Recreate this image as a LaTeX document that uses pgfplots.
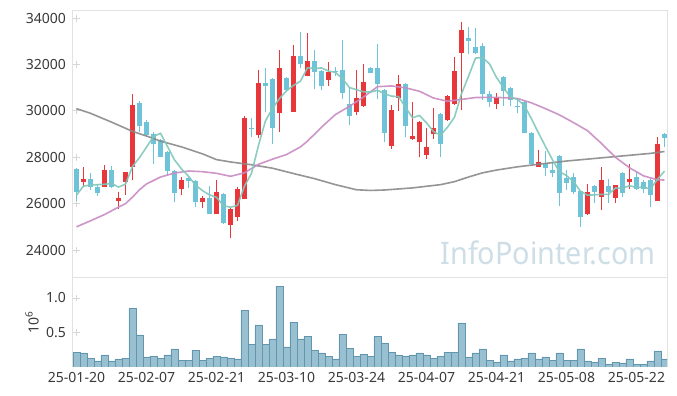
\documentclass[border=0pt]{standalone}
\usepackage{fontspec}
\setmainfont{Noto Sans}
\usepackage{graphicx}
\usepackage{pgfplots}
\pgfplotsset{compat=1.18}
\usepackage{pgfplotstable}

\definecolor{upc}{RGB}{232,55,59}
\definecolor{dnc}{RGB}{110,195,217}
\definecolor{ma5c}{RGB}{128,200,186}
\definecolor{ma20c}{RGB}{201,139,195}
\definecolor{malc}{RGB}{138,138,138}
\definecolor{volf}{RGB}{152,192,208}
\definecolor{vold}{RGB}{98,150,174}
\definecolor{framec}{RGB}{226,226,226}
\definecolor{crossc}{RGB}{214,214,214}
\definecolor{labc}{RGB}{58,58,58}
\definecolor{wmc}{RGB}{205,222,231}

% rising candles (close > open)
\pgfplotstableread{
i o h l c
1 26950 27570 26710 27060
4 26730 27670 26720 27450
6 26130 26520 25760 26260
7 26950 27370 26370 27350
8 27570 30730 27020 30260
15 26620 27160 26370 27020
18 26090 26340 25800 26240
20 25550 27020 25540 26490
22 25080 25800 24500 25770
23 25440 26710 25250 26630
24 26200 29780 26180 29710
26 28960 31770 28820 31200
29 29900 32630 29080 31870
31 29970 32850 29940 32370
33 31520 33350 31490 32160
36 31340 32130 31080 31700
40 29970 31770 29830 30570
41 30220 32020 30190 31260
45 28500 30260 28360 30040
46 30550 31550 30010 31170
48 28790 30400 28750 28920
49 28650 29570 28000 29540
50 28100 29280 27930 28460
51 28990 30120 28790 29280
53 29610 30690 29570 30650
54 30290 32340 30270 31730
55 32520 33850 30040 33500
60 30290 30760 30090 30550
66 27600 28320 27580 27810
73 25540 26840 25520 26520
75 26300 27570 25730 27020
77 26230 26820 26040 26810
79 26950 27710 26620 27060
83 26130 28860 26110 28580
}\upT

% falling candles (close < open)
\pgfplotstableread{
i o h l c
0 27500 27540 26130 26520
2 27060 27310 26590 26710
3 26730 26840 26340 26450
5 27450 27630 26660 26710
9 30330 30430 29110 29370
10 29510 29610 28890 28960
11 29010 29110 27710 28560
12 28740 28790 28000 28030
13 28230 28290 27240 27420
14 27410 27450 26090 26470
16 27100 27160 26660 26990
17 26980 27000 25840 26090
19 26240 26780 25540 25550
21 26420 26450 25120 25180
25 29270 29680 28890 29230
27 31200 31840 29970 31090
28 31380 31410 28560 29280
30 31440 31480 30830 30910
32 32370 33420 31840 32010
34 32160 32630 30940 31700
35 31730 31770 30910 31060
37 31740 31910 31490 31700
38 31770 33060 30500 30790
39 30300 31000 29380 29800
42 31860 31910 31630 31650
43 31860 32890 30500 31180
44 30910 30940 28650 29060
47 31170 31200 28890 29370
52 29870 29900 28030 28560
56 33160 33640 32450 33030
57 32750 33570 32480 32520
58 32810 32950 30470 30730
59 30720 30860 30190 30400
61 31450 31490 30230 30860
62 30980 31050 30230 30470
63 30230 30550 29900 30190
64 30380 30430 29040 29060
65 29040 29110 27670 27700
67 27740 28290 27190 27550
68 27450 27800 27160 27340
69 28060 28080 25900 26470
70 27100 27450 26600 26910
71 27150 27340 26420 26520
72 26550 26560 25010 25440
74 26760 26810 26020 26520
76 26760 27050 26040 26520
78 27340 27350 26280 26470
80 27150 27380 26600 26620
81 26920 27020 26450 26620
82 27020 27100 25840 26370
84 29010 29040 28460 28820
}\dnT

% short moving average
\pgfplotstableread{
i v
0 26370
1 26760
2 26800
3 26820
4 26837
5 26875
6 26714
7 26843
8 27606
9 27988
10 28439
11 28900
12 29035
13 28468
14 27890
15 27501
16 27187
17 26799
18 26563
19 26379
20 26273
21 25910
22 25847
23 25925
24 26756
25 27308
26 28512
27 29576
28 30105
29 30537
30 30868
31 31103
32 31288
33 31864
34 31829
35 31859
36 31724
37 31665
38 31392
39 31012
40 30915
41 30829
42 30815
43 30893
44 30746
45 30640
46 30620
47 30163
48 29711
49 29806
50 29489
51 29112
52 28951
53 29297
54 29734
55 30742
56 31493
57 32283
58 32301
59 32036
60 31446
61 31012
62 30603
63 30497
64 30229
65 29660
66 29049
67 28465
68 27892
69 27374
70 27215
71 26956
72 26533
73 26369
74 26378
75 26401
76 26401
77 26675
78 26666
79 26776
80 26696
81 26716
82 26630
83 27051
84 27402
}\maFive

% medium moving average
\pgfplotstableread{
i v
0 25000
2 25260
4 25530
6 25850
7 26000
8 26280
9 26600
10 26850
11 27000
12 27150
14 27320
16 27410
18 27380
20 27310
22 27180
24 27330
26 27700
28 27920
30 28120
32 28450
33 28700
35 29300
37 29850
39 30200
41 30600
43 31050
45 31080
47 31000
49 30850
51 30560
53 30420
55 30500
57 30580
60 30590
63 30540
65 30350
67 30100
69 29830
71 29500
73 29150
75 28600
77 28000
79 27550
81 27200
83 27030
84 27020
}\maTwenty

% long moving average
\pgfplotstableread{
i v
0 30100
2 29900
5 29520
8 29120
10 28920
12 28700
15 28450
18 28150
20 27900
22 27800
25 27680
28 27530
31 27300
34 27080
37 26820
40 26600
42 26570
44 26590
48 26680
52 26820
54 26950
56 27150
58 27330
60 27450
63 27590
66 27700
70 27840
74 27950
78 28060
82 28170
84 28250
}\maLong

% volume (millions)
\pgfplotstableread{
i v
0 0.217
1 0.203
2 0.130
3 0.087
4 0.174
5 0.087
6 0.116
7 0.130
8 0.855
9 0.464
10 0.145
11 0.159
12 0.130
13 0.174
14 0.261
15 0.101
16 0.101
17 0.246
18 0.101
19 0.130
20 0.159
21 0.145
22 0.130
23 0.116
24 0.826
25 0.333
26 0.609
27 0.333
28 0.406
29 1.174
30 0.290
31 0.652
32 0.406
33 0.449
34 0.246
35 0.203
36 0.159
37 0.116
38 0.478
39 0.275
40 0.159
41 0.188
42 0.159
43 0.449
44 0.348
45 0.217
46 0.174
47 0.159
48 0.174
49 0.203
50 0.174
51 0.130
52 0.159
53 0.217
54 0.217
55 0.638
56 0.145
57 0.203
58 0.261
59 0.101
60 0.072
61 0.174
62 0.087
63 0.116
64 0.130
65 0.203
66 0.116
67 0.145
68 0.101
69 0.203
70 0.101
71 0.101
72 0.261
73 0.087
74 0.072
75 0.130
76 0.043
77 0.072
78 0.058
79 0.116
80 0.043
81 0.043
82 0.087
83 0.232
84 0.116
}\volT

\pgfplotsset{
  common/.style={
    scale only axis,
    width=297pt,
    xmin=-0.5, xmax=84.36,
    axis line style={draw=framec, line width=0.5pt},
    major tick length=0pt,
    scaled ticks=false,
    tick label style={font=\fontsize{7}{8}\selectfont, text=labc},
    /pgf/number format/assume math mode=true,
    yticklabel style={inner sep=0pt, xshift=-3.3pt},
    xticklabel style={inner sep=0pt, yshift=-2.4pt},
    xtick={0,10,20,30,40,50,60,70,80},
  },
}

\begin{document}
\begin{tikzpicture}
\fill[white] (-36.5pt,-59pt) rectangle (302pt,139pt);

\begin{axis}[common,
  at={(0pt,0pt)}, anchor=south west,
  height=134pt,
  ymin=22792, ymax=34358,
  ytick={24000,26000,28000,30000,32000,34000},
  xticklabels={},
  yticklabel style={/pgf/number format/.cd, fixed, precision=0, 1000 sep={}},
]
\pgfplotsinvokeforeach{0,10,20,30,40,50,60,70,80}{%
  \pgfplotsinvokeforeach{24000,26000,28000,30000,32000,34000}{%
    \draw[crossc, line width=0.5pt] ([xshift=-1.7pt]axis cs:#1,##1) -- ([xshift=1.7pt]axis cs:#1,##1);
    \draw[crossc, line width=0.5pt] ([yshift=-1.7pt]axis cs:#1,##1) -- ([yshift=1.7pt]axis cs:#1,##1);
  }%
}
\node[anchor=base west, text=wmc, font=\fontsize{15.5}{18}\selectfont, inner sep=0pt]
  at (rel axis cs:0.618,0.051) {\scalebox{0.93}[1]{InfoPointer.com}};

% wicks
\addplot[draw=none, mark=none, forget plot,
  error bars/.cd, y dir=plus, y explicit, error mark=none,
  error bar style={draw=upc, line width=0.5pt}]
  table[x=i, y=l, y error plus expr=\thisrow{h}-\thisrow{l}] {\upT};
\addplot[draw=none, mark=none, forget plot,
  error bars/.cd, y dir=plus, y explicit, error mark=none,
  error bar style={draw=dnc, line width=0.5pt}]
  table[x=i, y=l, y error plus expr=\thisrow{h}-\thisrow{l}] {\dnT};
% bodies
\addplot[draw=none, mark=none, forget plot,
  error bars/.cd, y dir=plus, y explicit, error mark=none,
  error bar style={draw=upc, line width=2.5pt}]
  table[x=i, y=o, y error plus expr=\thisrow{c}-\thisrow{o}] {\upT};
\addplot[draw=none, mark=none, forget plot,
  error bars/.cd, y dir=plus, y explicit, error mark=none,
  error bar style={draw=dnc, line width=2.5pt}]
  table[x=i, y=c, y error plus expr=\thisrow{o}-\thisrow{c}] {\dnT};

\addplot[malc, line width=0.8pt, no marks, opacity=0.9] table[x=i, y=v] {\maLong};
\addplot[ma20c, line width=0.8pt, no marks, opacity=0.9] table[x=i, y=v] {\maTwenty};
\addplot[ma5c, line width=0.8pt, no marks, opacity=0.9] table[x=i, y=v] {\maFive};
\end{axis}

\begin{axis}[common,
  at={(0pt,0pt)}, anchor=north west,
  height=44.5pt,
  ymin=0, ymax=1.29,
  ytick={0.5,1.0},
  yticklabel style={/pgf/number format/.cd, fixed, fixed zerofill, precision=1},
  xticklabels={25-01-20,25-02-07,25-02-21,25-03-10,25-03-24,25-04-07,25-04-21,25-05-08,25-05-22},
  ylabel={10\textsuperscript{6}},
  ylabel style={at={(axis description cs:-0.069,0.5)}, anchor=center, font=\fontsize{7}{8}\selectfont, text=labc},
]
\pgfplotsinvokeforeach{0,10,20,30,40,50,60,70,80}{%
  \pgfplotsinvokeforeach{0.5,1.0}{%
    \draw[crossc, line width=0.5pt] ([xshift=-1.7pt]axis cs:#1,##1) -- ([xshift=1.7pt]axis cs:#1,##1);
    \draw[crossc, line width=0.5pt] ([yshift=-1.7pt]axis cs:#1,##1) -- ([yshift=1.7pt]axis cs:#1,##1);
  }%
}
\addplot[ybar, bar width=1, fill=volf, draw=vold, line width=0.4pt] table[x=i, y=v] {\volT};
\end{axis}
\end{tikzpicture}
\end{document}
